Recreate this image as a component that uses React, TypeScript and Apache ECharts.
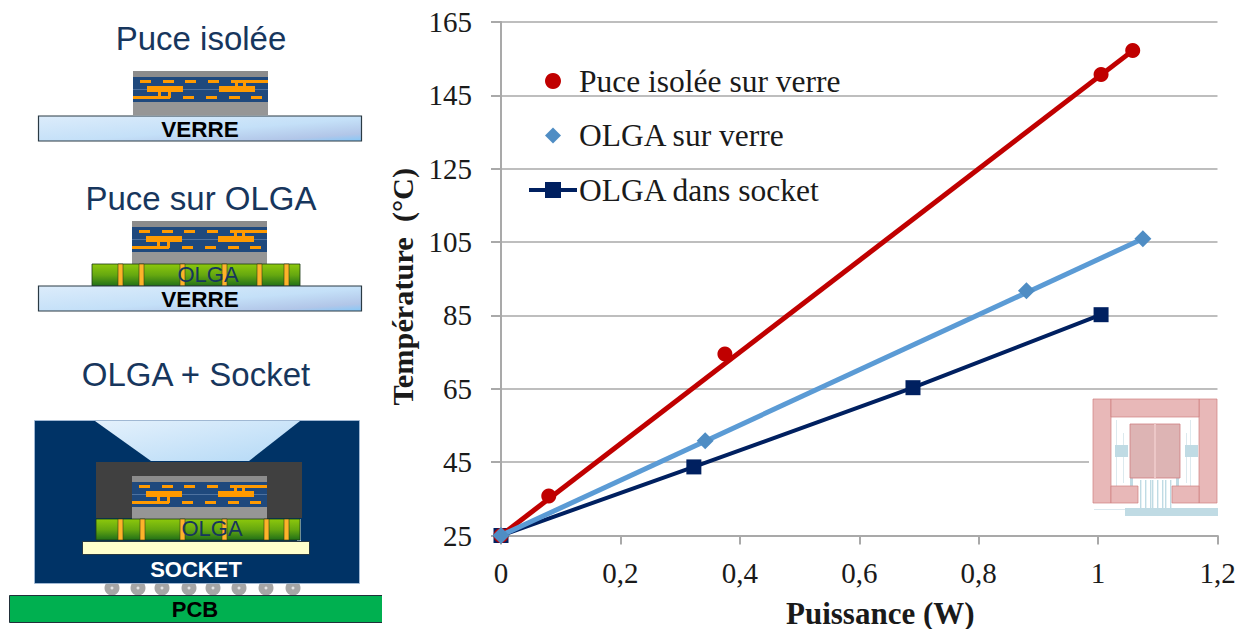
import React, { useEffect, useRef } from "react";
import * as echarts from "echarts";

const SERIF = "'Liberation Serif', serif";
const SANS = "'Liberation Sans', sans-serif";

const puceIsolee: [number, number][] = [[0, 25], [0.08, 35.8], [0.375, 74.5], [1.005, 150.7], [1.058, 157.2]];
const olgaVerre: [number, number][] = [[0, 25], [0.342, 50.8], [0.88, 91.7], [1.075, 105.9]];
const olgaSocket: [number, number][] = [[0, 25], [0.323, 43.7], [0.69, 65.3], [1.005, 85.2]];
const trendPuce: [number, number][] = [[0, 25], [1.058, 157.2]];
const trendOlga: [number, number][] = [[0, 25], [1.075, 105.9]];
const legendNames = ["Puce isolée sur verre", "OLGA sur verre", "OLGA dans socket"];

const glass = {
  type: "linear", x: 0, y: 0, x2: 1, y2: 1,
  colorStops: [
    { offset: 0, color: "#dcecfb" }, { offset: 0.55, color: "#c4e0f8" },
    { offset: 0.85, color: "#b2c6e8" }, { offset: 1, color: "#85c8f8" },
  ],
};
const green = {
  type: "linear", x: 0, y: 0, x2: 0, y2: 1,
  colorStops: [{ offset: 0, color: "#8dc80c" }, { offset: 0.5, color: "#66a810" }, { offset: 1, color: "#217018" }],
};
const skylight = {
  type: "linear", x: 0, y: 0, x2: 1, y2: 1,
  colorStops: [{ offset: 0, color: "#e4f1fc" }, { offset: 1, color: "#b4d9f6" }],
};

const rect = (x: number, y: number, w: number, h: number, fill: any, extra: any = {}) => ({
  type: "rect", z: 20, shape: { x, y, width: w, height: h }, style: { fill, ...extra },
});
const label = (x: number, y: number, text: string, fontSize: number, fill: string, fontWeight = "normal") => ({
  type: "text", z: 30, x, y,
  style: { text, fontSize, fill, fontWeight, fontFamily: SANS, align: "center", verticalAlign: "middle" },
});

function chip(x: number, y: number) {
  const o = "#ff9a00";
  const els: any[] = [
    rect(x, y, 135, 6, "#8c8c8c"),
    rect(x, y + 6, 135, 25, "#1f497d"),
    rect(x, y + 31, 135, 13, "#969696"),
    rect(x, y + 18, 135, 0.6, "#7f9cc4"),
  ];
  [7, 30, 52, 75].forEach((d) => els.push(rect(x + d, y + 9, 11, 3, o)));
  els.push(rect(x + 98, y + 9, 37, 3, o));
  [102, 110].forEach((d) => els.push(rect(x + d, y + 10, 3, 7, o)));
  els.push(rect(x + 14, y + 15, 36, 6, o));
  els.push(rect(x + 86, y + 15, 36, 6, o));
  [25, 35].forEach((d) => els.push(rect(x + d, y + 20, 3, 7, o)));
  els.push(rect(x, y + 25, 37, 3, o));
  [50, 73, 96, 118].forEach((d) => els.push(rect(x + d, y + 25, 11, 3, o)));
  return els;
}

function olga(x: number, y: number, w: number, h: number, vias: number[]) {
  const els: any[] = [rect(x, y, w, h, green, { stroke: "#1c3a14", lineWidth: 0.8 })];
  vias.forEach((d) => els.push(rect(x + d, y, 5, h, "#fdb32a", { stroke: "#3a3a10", lineWidth: 0.6 })));
  els.push(label(x + 116, y + h / 2 - 1, "OLGA", 22, "#17365d", "normal"));
  return els;
}

function verre(y: number) {
  return [
    rect(38.5, y, 323, 25, glass, { stroke: "#2a3a44", lineWidth: 1.2 }),
    label(200, y + 13, "VERRE", 22.5, "#000000", "bold"),
  ];
}

function socketPanel() {
  const els: any[] = [
    rect(34.5, 420.5, 325, 163, "#003366", { stroke: "#a8c0dc", lineWidth: 0.8 }),
    { type: "polygon", z: 20, shape: { points: [[95, 421], [300, 421], [249, 461], [151, 461]] }, style: { fill: skylight } },
    rect(96, 462, 206, 56, "#404040"),
    ...chip(132, 476),
    rect(297, 519, 4, 22, "#a8c8ec"),
    ...olga(96, 519, 204, 21, [22, 44, 84, 126, 168, 188]),
    rect(82.5, 541.5, 227, 13, "#ffffcc", { stroke: "#10202c", lineWidth: 0.8 }),
    label(196, 569, "SOCKET", 22, "#ffffff", "bold"),
  ];
  [112, 138, 162, 189, 213, 239, 266, 293].forEach((cx) => {
    els.push({ type: "circle", z: 19, shape: { cx, cy: 588, r: 7.5 }, style: { fill: "#a6a6a6" } });
    els.push({ type: "circle", z: 20, shape: { cx, cy: 588, r: 1.5 }, style: { fill: "#e4e4e4" } });
  });
  els.push(rect(9.5, 595.5, 380, 27, "#00b050", { stroke: "#22303a", lineWidth: 1 }));
  els.push(rect(382, 594, 10, 30, "#ffffff"));
  els.push(label(195, 609, "PCB", 22, "#000000", "bold"));
  return els;
}

function inset() {
  const pink = "#e8b8b8";
  const edge = "#cf7f80";
  const blue = "#c0dbe4";
  const els: any[] = [rect(1089, 397, 131, 122, "#ffffff")];
  [[1116, 420, 1, 70], [1190, 420, 1, 70], [1123, 433, 1, 50], [1186, 433, 1, 50]].forEach(([x, y, w, h]) =>
    els.push(rect(x, y, w, h, "#dce9ee")));
  els.push(rect(1115, 445, 13, 12, blue));
  els.push(rect(1185, 445, 13, 12, blue));
  els.push(rect(1130, 478, 3, 10, blue));
  els.push(rect(1176, 478, 3, 10, blue));
  [1140, 1145, 1150, 1152, 1157, 1162, 1165, 1170].forEach((x) => els.push(rect(x, 480, 1.4, 30, blue)));
  els.push(rect(1125, 508, 93, 8, blue));
  els.push(rect(1094, 509, 31, 1, "#dbe8ee"));
  els.push(rect(1093, 399, 18, 104, pink, { stroke: edge, lineWidth: 0.7 }));
  els.push(rect(1199, 399, 18, 104, pink, { stroke: edge, lineWidth: 0.7 }));
  els.push(rect(1111, 399, 88, 18, pink, { stroke: edge, lineWidth: 0.7 }));
  els.push(rect(1130, 424, 50, 54, "#ddb4b4", { stroke: edge, lineWidth: 0.8 }));
  els.push(rect(1154, 423, 2, 55, "#ecc7c7"));
  els.push(rect(1111, 486, 27, 17, pink, { stroke: edge, lineWidth: 0.7 }));
  els.push(rect(1172, 486, 27, 17, pink, { stroke: edge, lineWidth: 0.7 }));
  return els;
}

const axisGrey = "#a9a9a9";

export default function App() {
  const ref = useRef<HTMLDivElement>(null);
  useEffect(() => {
    const chart = echarts.init(ref.current!, null, { renderer: "svg" });
    const titleColor = "#17365d";
    chart.setOption({
      animation: false,
      backgroundColor: "#ffffff",
      grid: { left: 501, top: 22, right: 33.5, bottom: 93.5, containLabel: false, outerBoundsMode: "none" },
      legend: {
        show: true,
        orient: "vertical",
        left: 522,
        top: 60,
        itemWidth: 48,
        itemHeight: 20,
        itemGap: 22.5,
        selectedMode: false,
        lineStyle: { width: "inherit" },
        textStyle: { fontFamily: SERIF, fontSize: 31.5, color: "#1a1a1a", padding: [0, 0, 0, -3] },
        data: legendNames,
      },
      xAxis: {
        type: "value", min: 0, max: 1.2, interval: 0.2,
        name: "Puissance (W)", nameLocation: "middle", nameGap: 62,
        nameTextStyle: { fontFamily: SERIF, fontSize: 31, fontWeight: "bold", color: "#1a1a1a", padding: [0, 0, 0, 42] },
        axisLine: { show: true, lineStyle: { color: axisGrey, width: 2 } },
        axisTick: { show: true, length: 9, lineStyle: { color: axisGrey, width: 2 } },
        axisLabel: {
          fontFamily: SERIF, fontSize: 29, color: "#1a1a1a", margin: 23,
          formatter: (v: number) => String(+v.toFixed(1)).replace(".", ","),
        },
        splitLine: { show: false },
      },
      yAxis: {
        type: "value", min: 25, max: 165, interval: 20,
        name: "Température  (°C)", nameLocation: "middle", nameGap: 77, nameRotate: 90,
        nameTextStyle: { fontFamily: SERIF, fontSize: 30.3, fontWeight: "bold", color: "#1a1a1a", padding: [0, 16, 0, 0] },
        axisLine: { show: true, lineStyle: { color: axisGrey, width: 2 } },
        axisTick: { show: true, length: 10, lineStyle: { color: axisGrey, width: 2 } },
        axisLabel: { fontFamily: SERIF, fontSize: 29, color: "#1a1a1a", margin: 29 },
        splitLine: { show: true, lineStyle: { color: axisGrey, width: 1.5 } },
      },
      series: [
        {
          name: legendNames[2], type: "line", data: olgaSocket, symbol: "rect", symbolSize: 15, z: 2,
          lineStyle: { color: "#002060", width: 4 }, itemStyle: { color: "#002060" },
        },
        {
          name: "tendance puce", type: "line", data: trendPuce, symbol: "none", z: 3,
          lineStyle: { color: "#c00000", width: 5 }, silent: true,
        },
        {
          name: legendNames[0], type: "line", data: puceIsolee, symbol: "circle", symbolSize: 15, z: 3,
          lineStyle: { width: 0, opacity: 0 }, itemStyle: { color: "#c00000" },
        },
        {
          name: "tendance OLGA", type: "line", data: trendOlga, symbol: "none", z: 4,
          lineStyle: { color: "#5b9bd5", width: 5 }, silent: true,
        },
        {
          name: legendNames[1], type: "line", data: olgaVerre, symbol: "diamond", symbolSize: 17, z: 4,
          lineStyle: { width: 0, opacity: 0 }, itemStyle: { color: "#4f8dc4" },
        },
      ],
      graphic: {
        elements: [
          label(201, 38, "Puce isolée", 33, titleColor),
          ...chip(133, 71),
          ...verre(116),
          label(201, 198, "Puce sur OLGA", 33, titleColor),
          ...chip(132, 221),
          ...olga(92, 264, 208, 22, [26, 47, 88, 130, 165, 192]),
          ...verre(286),
          label(196, 374, "OLGA + Socket", 33, titleColor),
          ...socketPanel(),
          ...inset(),
        ],
      },
    });
    return () => chart.dispose();
  }, []);
  return <div ref={ref} style={{ position: "fixed", left: 0, top: 0, width: 1251, height: 629 }} />;
}
